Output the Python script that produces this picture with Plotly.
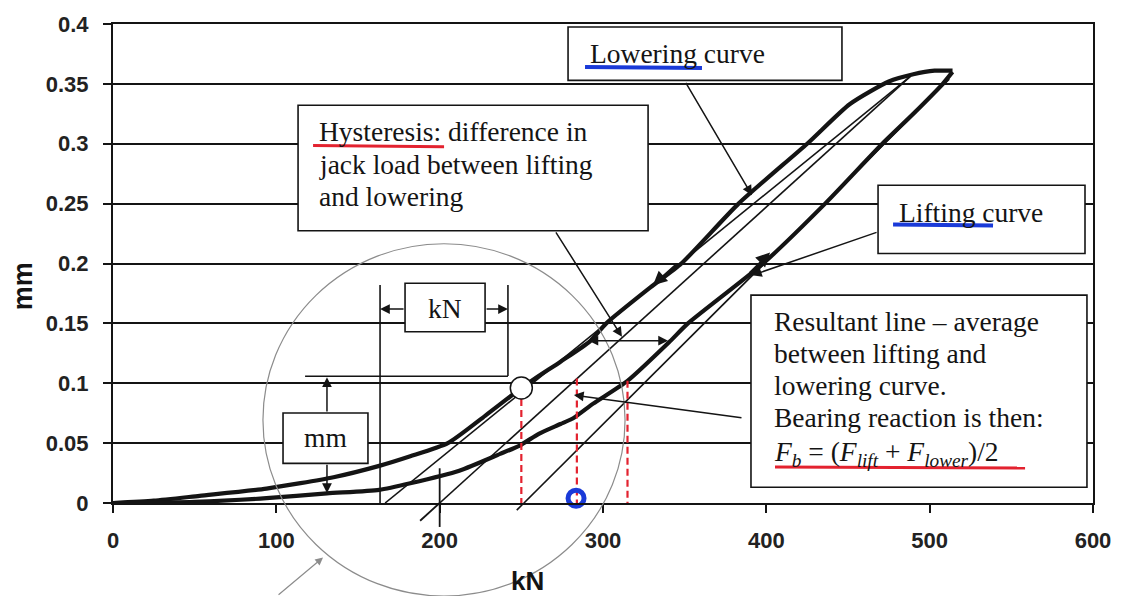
import plotly.graph_objects as go

X_MAX = 600
Y_MAX = 0.4

x_ticks = [0, 100, 200, 300, 400, 500, 600]
y_ticks = [0, 0.05, 0.1, 0.15, 0.2, 0.25, 0.3, 0.35, 0.4]
y_tick_text = ["0", "0.05", "0.1", "0.15", "0.2", "0.25", "0.3", "0.35", "0.4"]

# Jack load (kN) against bearing displacement (mm)
lowering_kn = [0, 25, 53, 94, 135, 163, 182, 205, 228, 253, 274, 292, 302,
               329, 348, 383, 425, 451, 475, 490, 503, 514]
lowering_mm = [0, 0.002, 0.006, 0.012, 0.0215, 0.031, 0.039, 0.05, 0.073,
               0.099, 0.118, 0.135, 0.15, 0.18, 0.2, 0.25, 0.3, 0.333, 0.352,
               0.358, 0.361, 0.361]

lifting_kn = [0, 50, 94, 131, 163, 182, 212, 237, 249, 261, 274, 282, 294,
              315, 341, 352, 398, 436, 471, 490, 508, 514]
lifting_mm = [0, 0.001, 0.004, 0.008, 0.011, 0.0165, 0.027, 0.041, 0.048,
              0.058, 0.066, 0.071, 0.083, 0.102, 0.135, 0.15, 0.2, 0.25, 0.3,
              0.325, 0.35, 0.36]

# Straight construction lines: tangent to each branch and the resultant line
tangent_lower_kn = [166.6, 488]
tangent_lower_mm = [0, 0.356]
resultant_kn = [200, 488]
resultant_mm = [0, 0.356]
tangent_lift_kn = [251.6, 512]
tangent_lift_mm = [0, 0.354]

readoff_kn = [250, 284, 315]
readoff_mm = [0.096, 0.104, 0.102]
marked_point = (250, 0.096)
reaction_mark = (283.5, 0.004)

INK = "#141414"
RED = "#e3222f"
BLUE = "#1a3ad8"
GREY = "#8c8c8c"
SERIF = "Liberation Serif"
SANS = "Liberation Sans"
TEXT_SIZE = 27.5


def yp(v):
    """Displacement value expressed as a paper fraction of the y axis."""
    return v / Y_MAX


def x_at(xs, ys, y):
    """Load on a straight line at a given displacement."""
    slope = (ys[1] - ys[0]) / (xs[1] - xs[0])
    return xs[0] + (y - ys[0]) / slope


fig = go.Figure()

for xs, ys in [(lowering_kn, lowering_mm), (lifting_kn, lifting_mm)]:
    fig.add_trace(go.Scatter(x=xs, y=ys, mode="lines",
                             line=dict(color=INK, width=4.2, shape="spline",
                                       smoothing=0.6)))
for xs, ys in [(tangent_lower_kn, tangent_lower_mm),
               (resultant_kn, resultant_mm),
               (tangent_lift_kn, tangent_lift_mm)]:
    fig.add_trace(go.Scatter(x=xs, y=ys, mode="lines",
                             line=dict(color=INK, width=1.6)))

for kn, mm in zip(readoff_kn, readoff_mm):
    fig.add_trace(go.Scatter(x=[kn, kn], y=[mm, -0.004], mode="lines",
                             line=dict(color=RED, width=2.2, dash="7px,4px")))

fig.add_trace(go.Scatter(x=[reaction_mark[0]], y=[reaction_mark[1]],
                         mode="markers", cliponaxis=False,
                         marker=dict(symbol="circle-open", size=16,
                                     line=dict(color=BLUE, width=5), color=BLUE)))
fig.add_trace(go.Scatter(x=[marked_point[0]], y=[marked_point[1]],
                         mode="markers", cliponaxis=False,
                         marker=dict(symbol="circle", size=22, color="white",
                                     line=dict(color=INK, width=1.5))))

shapes = []


def box(x0, x1, y0, y1):
    shapes.append(dict(type="rect", xref="x", yref="y", x0=x0, x1=x1,
                       y0=y0, y1=y1, fillcolor="white",
                       line=dict(color=INK, width=1.6), layer="above"))


def seg(x0, y0, x1, y1, color=INK, width=1.6, yref="y"):
    shapes.append(dict(type="line", xref="x", yref=yref, x0=x0, y0=y0,
                       x1=x1, y1=y1, line=dict(color=color, width=width),
                       layer="above"))


# Text boxes
box(113.3, 327.6, 0.2273, 0.3322)   # hysteresis
box(278.6, 446.3, 0.3529, 0.3975)   # lowering curve
box(468.4, 595.1, 0.2083, 0.2653)   # lifting curve
box(390.6, 596.3, 0.0132, 0.1736)   # resultant line
box(178.8, 227.8, 0.1430, 0.1835)   # kN
box(104.1, 156.1, 0.0331, 0.0752)   # mm

# Dimension extension lines
seg(163.5, 0.182, 163.5, 0.0)
seg(241.8, 0.182, 241.8, 0.106)
seg(117.6, 0.1058, 241.8, 0.1058)

# Extensions of the construction lines below the load axis
r_end = x_at(resultant_kn, resultant_mm, -0.0148)
seg(resultant_kn[0], yp(0), r_end, yp(-0.0148), width=1.8, yref="paper")
t_end = x_at(tangent_lift_kn, tangent_lift_mm, -0.006)
seg(tangent_lift_kn[0], yp(0), t_end, yp(-0.006), width=1.6, yref="paper")
seg(resultant_kn[0], yp(0.029), resultant_kn[0], yp(-0.02), width=1.8,
    yref="paper")

# Highlighting strokes under key words
seg(122.5, 0.2985, 202.7, 0.2975, color=RED, width=3)
seg(289.0, 0.3640, 360.6, 0.3632, color=BLUE, width=4)
seg(477.6, 0.2325, 538.8, 0.2318, color=BLUE, width=4)
seg(405.3, 0.0300, 558.4, 0.0292, color=RED, width=3)

# Detail circle around the low-load region
shapes.append(dict(type="circle", xref="x", yref="paper", x0=91.8, x1=313.5,
                   y0=yp(-0.0777), y1=yp(0.2165),
                   line=dict(color=GREY, width=1.2), layer="above"))

annotations = []


def label(x, y, text, size=TEXT_SIZE, anchor="left"):
    annotations.append(dict(x=x, y=y, xref="x", yref="y", text=text,
                            showarrow=False, xanchor=anchor, yanchor="middle",
                            font=dict(family=SERIF, size=size, color=INK)))


def arrow(hx, hy, tx, ty, width=1.5, size=1.3, both=False, color=INK):
    annotations.append(dict(x=hx, y=hy, ax=tx, ay=ty, xref="x", yref="y",
                            axref="x", ayref="y", text="", showarrow=True,
                            arrowhead=2, arrowsize=size, arrowwidth=width,
                            arrowcolor=color,
                            arrowside="end+start" if both else "end",
                            startarrowhead=2, startarrowsize=size))


label(124.9, 0.3099, "Hysteresis: difference in")
label(124.9, 0.2826, "jack load between lifting")
label(124.9, 0.2562, "and lowering")
label(290.8, 0.3756, "Lowering curve")
label(480.0, 0.2430, "Lifting curve")
label(403.5, 0.1514, "Resultant line \u2013 average")
label(403.5, 0.1250, "between lifting and")
label(403.5, 0.0985, "lowering curve.")
label(403.5, 0.0715, "Bearing reaction is then:")
label(403.5, 0.0417,
      "<i>F</i><sub><i>b</i></sub> = (<i>F</i><sub><i>lift</i></sub> + "
      "<i>F</i><sub><i>lower</i></sub>)/2")
label(203.3, 0.1628, "kN", anchor="center")
label(129.8, 0.0545, "mm", anchor="center")

# Pointers from the text boxes
arrow(391.2, 0.257, 350.2, 0.352)
arrow(391.2, 0.1901, 468.4, 0.2264)
arrow(311.6, 0.1388, 270.6, 0.2273)
arrow(282.2, 0.0901, 385.7, 0.0711)
arrow(339.8, 0.1355, 290.2, 0.1355, both=True)

# Dimension arrows
arrow(163.5, 0.162, 178.8, 0.162)
arrow(241.8, 0.162, 227.8, 0.162)
arrow(131.0, 0.105, 131.0, 0.0752)
arrow(131.0, 0.0083, 131.0, 0.0331)

# Direction of travel on each branch
arrow(330.6, 0.1818, 346.0, 0.2008, width=2, size=1.4)
arrow(402.3, 0.2091, 388.8, 0.1909, width=2, size=1.4)

# Pointer to the detail circle
annotations.append(dict(x=128.6, y=yp(-0.0455), xref="x", yref="paper",
                        ax=-46, ay=39, text="", showarrow=True, arrowhead=2,
                        arrowsize=1.3, arrowwidth=1.2, arrowcolor=GREY))

# Axis titles
annotations.append(dict(x=254, y=yp(-0.0650), xref="x", yref="paper",
                        text="kN", showarrow=False, xanchor="center",
                        yanchor="middle",
                        font=dict(family=SANS, size=26, color=INK,
                                  weight="bold")))
annotations.append(dict(x=-0.0918, y=0.4525, xref="paper", yref="paper",
                        text="mm", showarrow=False, textangle=-90,
                        xanchor="center", yanchor="middle",
                        font=dict(family=SANS, size=27, color=INK,
                                  weight="bold")))

tick_font = dict(family=SANS, size=22, color="#222", weight="bold")

fig.update_layout(
    width=1123, height=596,
    margin=dict(l=113, r=30, t=19, b=93),
    paper_bgcolor="white", plot_bgcolor="white",
    showlegend=False,
    shapes=shapes, annotations=annotations,
    xaxis=dict(range=[0, X_MAX], tickvals=x_ticks, showgrid=False,
               zeroline=False, showline=True, linecolor=INK, linewidth=2,
               mirror=True, ticks="outside", ticklen=8, tickwidth=1.6,
               tickcolor=INK, ticklabelstandoff=9, tickfont=tick_font),
    yaxis=dict(range=[0, Y_MAX], tickvals=y_ticks, ticktext=y_tick_text,
               showgrid=True, gridcolor=INK, gridwidth=1.8, zeroline=False,
               showline=True, linecolor=INK, linewidth=2, mirror=True,
               ticks="outside", ticklen=8, tickwidth=1.6, tickcolor=INK,
               ticklabelstandoff=10, tickfont=tick_font),
)

fig.write_html("out.html")
